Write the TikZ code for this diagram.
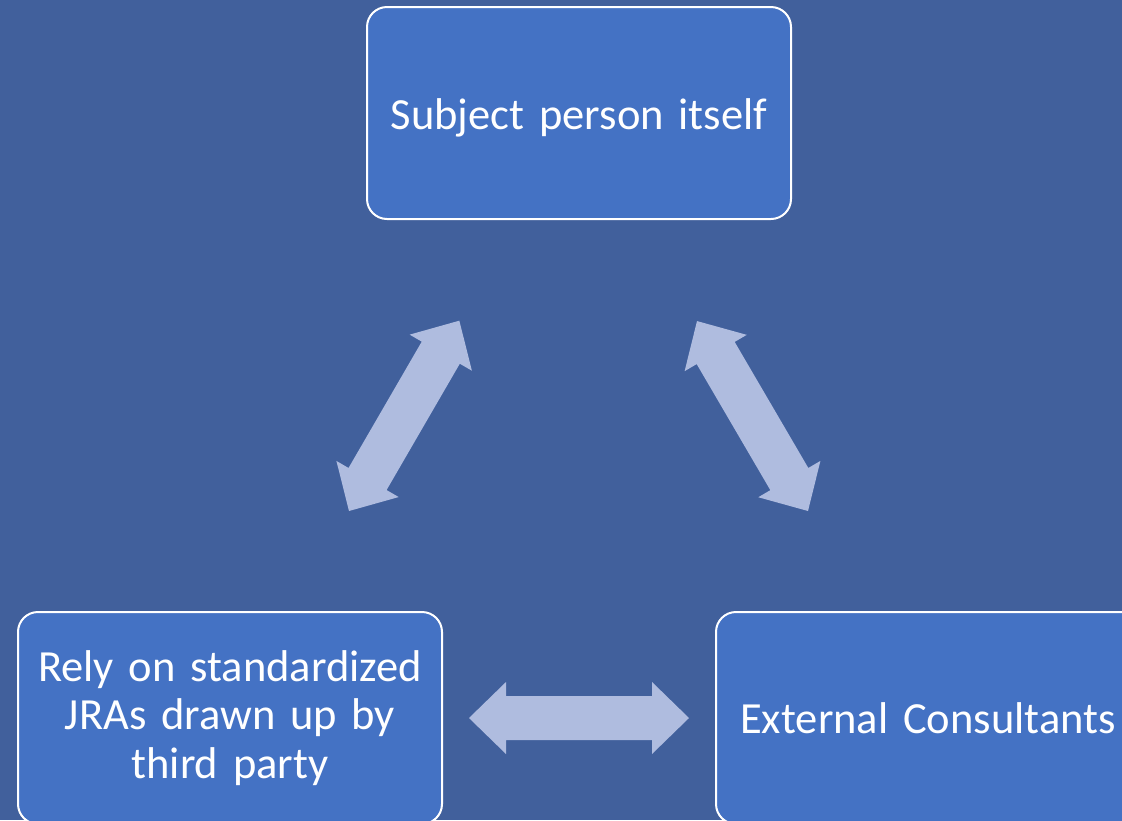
\documentclass[tikz,border=0pt]{standalone}
\usepackage{fontspec}
\setmainfont{Carlito}[WordSpace=0.9]
\definecolor{bgblue}{HTML}{41609C}
\definecolor{boxblue}{HTML}{4472C4}
\definecolor{arrowblue}{HTML}{AFBCDF}
\begin{document}
\begin{tikzpicture}[x=1pt,y=-1pt,
  card/.style={draw=white, line width=2pt, fill=boxblue, rounded corners=20pt,
    minimum width=424pt, minimum height=212pt, inner sep=0pt,
    text width=410pt, align=center, text=white,
    font=\fontsize{44.5}{48.5}\selectfont},
  pics/dblarrow/.style={code={
    \fill[arrowblue] (0,0) -- (37,36) -- (37,22) -- (183,22) -- (183,36) -- (220,0)
      -- (183,-36) -- (183,-22) -- (37,-22) -- (37,-36) -- cycle;}}
]
\useasboundingbox (0,0) rectangle (1122,820);
\fill[bgblue] (0,0) rectangle (1122,820);
\clip (0,0) rectangle (1122,820);

\node[card] (top) at (579,113) {\raisebox{-5pt}[\height][\depth]{Subject person itself}};
\node[card] (left) at (230,718) {Rely on standardized\\JRAs drawn up by\\third party};
\node[card] (right) at (928,718) {External Consultants};

\coordinate (la) at (349,511);
\coordinate (ra) at (808,511);
\coordinate (ba) at (469,718);

\pic[rotate=59.9] at (la) {dblarrow};
\pic[rotate=120.3] at (ra) {dblarrow};
\pic at (ba) {dblarrow};
\end{tikzpicture}
\end{document}
